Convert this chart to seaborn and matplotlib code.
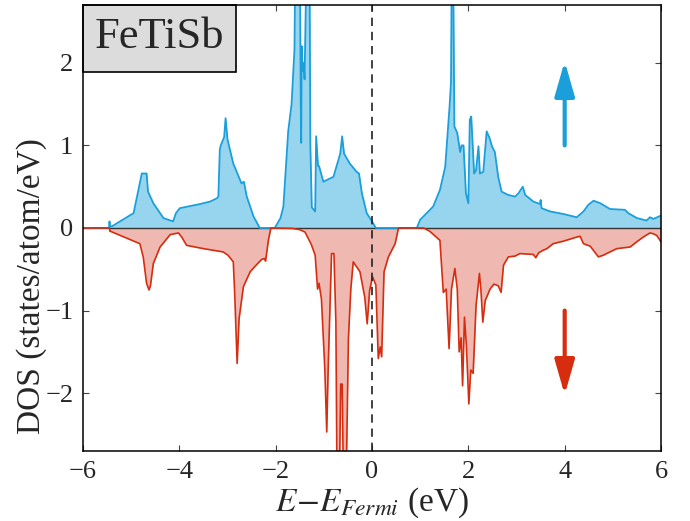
import matplotlib
matplotlib.use("Agg")
import matplotlib.pyplot as plt
import seaborn as sns
import numpy as np
import pandas as pd

# Spin-up density of states (states/atom/eV) vs E - E_Fermi (eV)
energy_up = [-6.0, -5.46, -5.45, -5.44, -5.40, -4.95, -4.80, -4.78, -4.68, -4.65,
             -4.54, -4.33, -4.13, -4.07, -3.99, -3.57, -3.36, -3.22, -3.19, -3.16,
             -3.14, -3.07, -3.04, -3.00, -2.88, -2.71, -2.66, -2.60, -2.46, -2.33,
             -2.02, -1.90, -1.84, -1.74, -1.67, -1.61, -1.585, -1.50, -1.48, -1.47,
             -1.46, -1.44, -1.42, -1.40, -1.35, -1.34, -1.30, -1.28, -1.25, -1.18,
             -1.16, -1.12, -1.10, -1.01, -0.80, -0.66, -0.62, -0.58, -0.46, -0.32,
             -0.27, -0.21, -0.11, 0.00, 0.08, 0.93, 1.00, 1.27, 1.41, 1.52,
             1.61, 1.64, 1.66, 1.68, 1.71, 1.77, 1.83, 1.86, 1.90, 1.95,
             2.00, 2.03, 2.06, 2.12, 2.16, 2.21, 2.24, 2.31, 2.38, 2.44,
             2.49, 2.55, 2.62, 2.69, 2.83, 2.97, 3.04, 3.13, 3.18, 3.35,
             3.49, 3.50, 3.52, 3.70, 3.97, 4.25, 4.39, 4.49, 4.60, 4.74,
             4.94, 5.25, 5.32, 5.50, 5.70, 5.77, 5.84, 6.0]
dos_up = [0.0, 0.0, 0.08, 0.02, 0.02, 0.18, 0.60, 0.66, 0.66, 0.44,
          0.30, 0.12, 0.08, 0.18, 0.24, 0.29, 0.32, 0.36, 0.38, 0.95,
          1.00, 1.10, 1.33, 1.07, 0.78, 0.54, 0.56, 0.38, 0.14, 0.0,
          0.0, 0.12, 0.26, 1.17, 1.50, 2.16, 3.6, 3.6, 1.50, 1.03,
          2.20, 1.90, 2.00, 1.80, 3.6, 3.6, 3.6, 1.00, 0.25, 0.20,
          1.11, 0.75, 0.75, 0.56, 0.62, 0.90, 1.11, 0.90, 0.78, 0.68,
          0.66, 0.42, 0.18, 0.08, 0.0, 0.0, 0.10, 0.26, 0.46, 0.74,
          1.47, 1.77, 3.6, 3.6, 1.23, 1.15, 0.92, 1.00, 1.00, 0.42,
          0.30, 1.31, 1.35, 0.66, 0.70, 0.99, 0.66, 0.68, 1.17, 1.09,
          0.99, 0.92, 0.62, 0.44, 0.40, 0.38, 0.42, 0.50, 0.40, 0.32,
          0.29, 0.34, 0.24, 0.20, 0.17, 0.13, 0.20, 0.28, 0.33, 0.30,
          0.23, 0.22, 0.18, 0.12, 0.09, 0.13, 0.11, 0.15]

# Spin-down density of states (plotted as negative values)
energy_dn = [-6.0, -5.45, -5.44, -5.43, -4.82, -4.75, -4.68, -4.63, -4.60, -4.54,
             -4.40, -4.19, -4.02, -3.95, -3.85, -3.50, -3.09, -2.99, -2.88, -2.85,
             -2.80, -2.76, -2.67, -2.53, -2.39, -2.29, -2.23, -2.21, -2.15, -2.10,
             -1.66, -1.50, -1.39, -1.26, -1.18, -1.13, -1.10, -1.05, -0.98, -0.94,
             -0.91, -0.84, -0.79, -0.75, -0.72, -0.69, -0.65, -0.62, -0.58, -0.55,
             -0.49, -0.44, -0.39, -0.32, -0.25, -0.15, -0.10, -0.05, 0.01, 0.08,
             0.13, 0.17, 0.20, 0.25, 0.34, 0.48, 0.55, 1.07, 1.20, 1.41,
             1.48, 1.54, 1.60, 1.65, 1.72, 1.77, 1.81, 1.85, 1.88, 1.92,
             1.96, 2.01, 2.05, 2.10, 2.16, 2.23, 2.26, 2.30, 2.35, 2.45,
             2.53, 2.62, 2.68, 2.73, 2.83, 2.97, 3.07, 3.35, 3.40, 3.46,
             3.55, 3.63, 3.76, 3.97, 4.25, 4.32, 4.39, 4.53, 4.70, 4.80,
             4.94, 5.08, 5.36, 5.49, 5.63, 5.77, 5.84, 5.91, 5.98, 6.0]
dos_dn = [0.0, 0.0, -0.04, -0.04, -0.19, -0.35, -0.67, -0.75, -0.70, -0.43,
          -0.23, -0.08, -0.06, -0.11, -0.21, -0.25, -0.29, -0.33, -0.41, -0.80,
          -1.64, -1.10, -0.71, -0.53, -0.44, -0.38, -0.37, -0.40, -0.145, 0.0,
          -0.005, -0.02, -0.05, -0.20, -0.33, -0.74, -0.67, -0.86, -1.70, -2.47,
          -1.70, -0.31, -0.31, -1.14, -3.6, -3.6, -1.89, -1.89, -3.6, -3.6,
          -1.34, -0.74, -0.41, -0.47, -0.53, -0.84, -1.16, -0.76, -0.59, -0.69,
          -1.58, -1.44, -1.56, -0.53, -0.35, -0.19, 0.0, 0.0, -0.04, -0.15,
          -0.78, -0.74, -1.46, -0.74, -0.49, -0.74, -1.50, -1.33, -1.91, -1.08,
          -1.43, -2.13, -1.72, -1.76, -0.94, -0.55, -0.74, -1.14, -0.88, -0.74,
          -0.68, -0.70, -0.78, -0.45, -0.35, -0.34, -0.31, -0.32, -0.36, -0.30,
          -0.27, -0.25, -0.19, -0.16, -0.11, -0.10, -0.19, -0.22, -0.35, -0.33,
          -0.29, -0.25, -0.23, -0.17, -0.11, -0.06, -0.07, -0.09, -0.15, -0.17]

x_ticks = [-6, -4, -2, 0, 2, 4, 6]
y_ticks = [-2, -1, 0, 1, 2]
compound = "FeTiSb"

up_line, up_fill = "#1a9fdb", "#97d5ef"
dn_line, dn_fill = "#d62d10", "#efb9b1"

sns.set_style("ticks")
plt.rcParams["font.family"] = ["Liberation Serif", "DejaVu Serif"]
plt.rcParams["mathtext.fontset"] = "stix"
plt.rcParams["axes.unicode_minus"] = True

df_up = pd.DataFrame({"E": energy_up, "DOS": dos_up})
df_dn = pd.DataFrame({"E": energy_dn, "DOS": dos_dn})

fig = plt.figure(figsize=(6.9, 5.21), dpi=100)
ax = fig.add_axes([0.1203, 0.1344, 0.8377, 0.856])

ax.fill_between(df_up["E"], 0, df_up["DOS"], color=up_fill, lw=0, zorder=1)
ax.fill_between(df_dn["E"], 0, df_dn["DOS"], color=dn_fill, lw=0, zorder=1)
ax.axhline(0, color="#333333", lw=1.0, zorder=2)
sns.lineplot(data=df_up, x="E", y="DOS", estimator=None, sort=False,
             color=up_line, lw=1.3, ax=ax, zorder=3)
sns.lineplot(data=df_dn, x="E", y="DOS", estimator=None, sort=False,
             color=dn_line, lw=1.2, ax=ax, zorder=4)
ax.axvline(0, color="#222222", lw=1.2, ls=(0, (5, 3.5)), zorder=5)

# spin direction arrows
ax.annotate("", xy=(4, 2.02), xytext=(4, 1.0),
            arrowprops=dict(arrowstyle="-|>,head_length=2.1,head_width=0.6",
                            mutation_scale=10, lw=3, color=up_line,
                            shrinkA=0, shrinkB=0))
ax.annotate("", xy=(4, -2.02), xytext=(4, -1.0),
            arrowprops=dict(arrowstyle="-|>,head_length=2.1,head_width=0.6",
                            mutation_scale=10, lw=3, color=dn_line,
                            shrinkA=0, shrinkB=0))

# compound label box in the upper-left corner
box = plt.Rectangle((0, 0.85), 0.265, 0.15, transform=ax.transAxes,
                    facecolor="#dcdcdc", edgecolor="black", lw=1.2,
                    zorder=6, clip_on=False)
ax.add_patch(box)
ax.text(0.1325, 0.928, compound, transform=ax.transAxes, ha="center",
        va="center", fontsize=32, zorder=7)

ax.set_xlim(-6, 6)
ax.set_ylim(-2.7, 2.7)
ax.set_xticks(x_ticks)
ax.set_yticks(y_ticks)
ax.tick_params(direction="in", length=4, width=0.8, top=True, right=True,
               labelsize=19, pad=7, color="#444444")
for s in ax.spines.values():
    s.set_linewidth(1.1)
    s.set_color("black")
    s.set_zorder(8)

ax.set_xlabel(r"$E\!-\!E_{Fermi}$ (eV)", fontsize=24, labelpad=2)
ax.set_ylabel("DOS (states/atom/eV)", fontsize=24, labelpad=4)
ax.yaxis.set_label_coords(-0.063, 0.37)

fig.savefig("out.png", dpi=100)
